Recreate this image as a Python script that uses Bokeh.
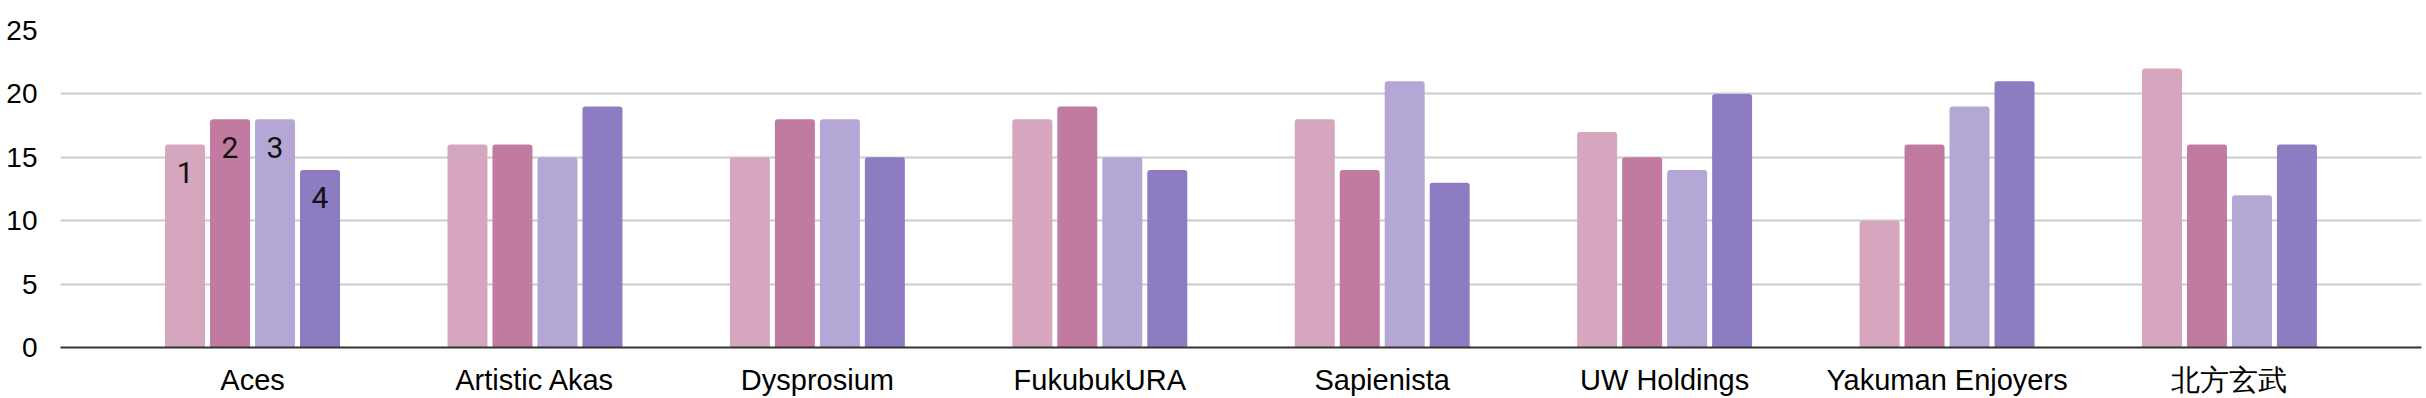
from bokeh.plotting import figure
from bokeh.models import ColumnDataSource, FactorRange, Range1d, FixedTicker
from bokeh.transform import dodge
from bokeh.core.properties import value
from bokeh.embed import file_html
from bokeh.resources import INLINE

categories = ["Aces", "Artistic Akas", "Dysprosium", "FukubukURA", "Sapienista",
              "UW Holdings", "Yakuman Enjoyers", "北方玄武"]
series1 = [16, 16, 15, 18, 18, 17, 10, 22]
series2 = [18, 16, 18, 19, 14, 15, 16, 16]
series3 = [18, 15, 18, 15, 21, 14, 19, 12]
series4 = [14, 19, 15, 14, 13, 20, 21, 16]
series_names = ["s1", "s2", "s3", "s4"]
colors = ["#d5a6bd", "#c27ba0", "#b4a7d6", "#8e7cc3"]
y_ticks = [0, 5, 10, 15, 20, 25]
label_category = "Aces"
label_texts = ["1", "2", "3", "4"]

src = ColumnDataSource(dict(cat=categories, s1=series1, s2=series2, s3=series3, s4=series4))

p = figure(width=2426, height=398, output_backend="svg", toolbar_location=None,
           x_range=FactorRange(factors=categories, range_padding=0.18,
                               range_padding_units="absolute"),
           y_range=Range1d(0, 25),
           min_border_left=60, min_border_right=5, min_border_top=30, min_border_bottom=48)
p.outline_line_color = None
p.background_fill_color = "white"
p.border_fill_color = "white"

bar_w = 0.1416
pitch = 0.1593
offsets = [-1.5 * pitch, -0.5 * pitch, 0.5 * pitch, 1.5 * pitch]

for name, col, off in zip(series_names, colors, offsets):
    p.vbar(x=dodge("cat", off, range=p.x_range), top=name, bottom=0, width=bar_w,
           source=src, fill_color=col, line_color=None, border_radius=(3, 3, 0, 0))

# labels inside first group's bars
idx = categories.index(label_category)
label_values = [series1[idx], series2[idx], series3[idx], series4[idx]]
for i, off in enumerate(offsets):
    sub = ColumnDataSource(dict(x=[label_category], y=[label_values[i]], t=[label_texts[i]]))
    p.text(x=dodge("x", off, range=p.x_range), y="y", text="t", source=sub,
           text_align="center", text_baseline="middle", y_offset=28,
           text_font=value("Roboto"), text_font_size="30px", text_color="#111111")

p.xgrid.grid_line_color = None
p.ygrid.grid_line_color = "#cccccc"
p.ygrid.grid_line_width = 2
p.yaxis.ticker = FixedTicker(ticks=y_ticks)
p.yaxis.axis_line_color = None
p.yaxis.major_tick_line_color = None
p.yaxis.minor_tick_line_color = None
p.yaxis.major_label_standoff = 17
p.yaxis.major_label_text_font = "Liberation Sans"
p.yaxis.major_label_text_font_size = "28px"
p.yaxis.major_label_text_color = "#000000"

p.xaxis.axis_line_color = "#333333"
p.xaxis.axis_line_width = 2
p.xaxis.major_tick_line_color = None
p.xaxis.minor_tick_line_color = None
p.xaxis.major_label_standoff = 10
p.xaxis.major_label_text_font = "Liberation Sans"
p.xaxis.major_label_text_font_size = "29px"
p.xaxis.major_label_text_color = "#000000"

open("out.html", "w").write(file_html(p, INLINE))
